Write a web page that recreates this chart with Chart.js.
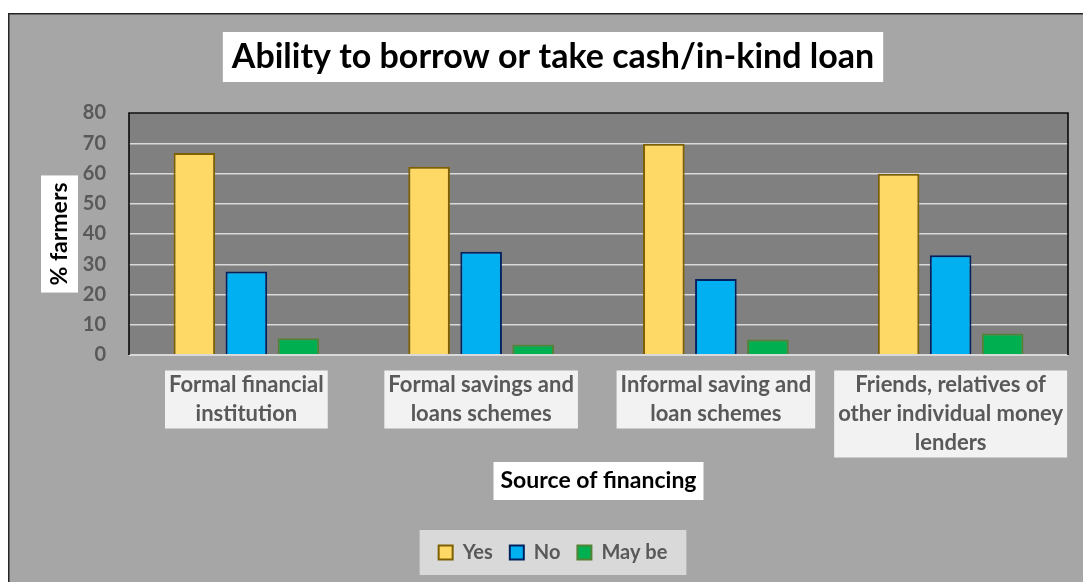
<!DOCTYPE html>
<html>
<head>
<meta charset="utf-8">
<script src="https://cdn.jsdelivr.net/npm/chart.js@4.4.1/dist/chart.umd.min.js"></script>
<style>
html,body{margin:0;padding:0;background:#ffffff;}
#wrap{width:1083px;height:582px;position:relative;}
canvas{display:block;}
</style>
</head>
<body>
<div id="wrap"><canvas id="c" width="1083" height="582"></canvas></div>
<script>
// ---- data ----
const chartTitle = "Ability to borrow or take cash/in-kind loan";
const yAxisTitle = "% farmers";
const xAxisTitle = "Source of financing";
const categories = [
  ["Formal financial", "institution"],
  ["Formal savings and", "loans schemes"],
  ["Informal saving and", "loan schemes"],
  ["Friends, relatives of", "other individual money", "lenders"]
];
const seriesNames = ["Yes", "No", "May be"];
const yesValues = [66.8, 62.2, 69.8, 59.9];
const noValues = [27.6, 34.1, 25.1, 33.0];
const maybeValues = [5.5, 3.5, 5.1, 7.1];
const yMin = 0, yMax = 80, yStep = 10;

// ---- style ----
const FONT = 'Lato, "Open Sans", "DejaVu Sans", sans-serif';
const TITLE_SIZE = 34, TITLE_PAD_TOP = 36.6, TITLE_PAD_BOTTOM = 35.6;
const AX_TITLE_SIZE = 23, XT_SIZE = 23, XT_PAD_B = 30.7;
const TICK_SIZE = 20, XTICK_SIZE = 22, XTICK_LH = 29, XTICK_PAD = 15.5;
const LEG_SIZE = 20, LEG_PAD = 17;

const decor = {
  id: 'decor',
  beforeDraw(chart) {
    const ctx = chart.ctx, W = chart.width, H = chart.height;
    const a = chart.chartArea;
    const xs = chart.scales.x;
    ctx.save();
    ctx.fillStyle = '#ffffff'; ctx.fillRect(0, 0, W, H);
    ctx.fillStyle = '#a6a6a6'; ctx.fillRect(9, 14, W - 9, H - 14);
    ctx.strokeStyle = '#262626'; ctx.lineWidth = 1.5;
    ctx.strokeRect(8.75, 13.75, W + 5, H + 5);
    // plot bg
    ctx.fillStyle = '#808080';
    ctx.fillRect(a.left, a.top, a.right - a.left, a.bottom - a.top);
    // title box
    const tb = chart.titleBlock;
    ctx.font = 'bold ' + TITLE_SIZE + 'px ' + FONT;
    const tw = ctx.measureText(chartTitle).width;
    const tcx = (tb.left + tb.right) / 2;
    const tcy = tb.top + TITLE_PAD_TOP + TITLE_SIZE * 1.2 / 2;
    ctx.fillStyle = '#ffffff';
    ctx.fillRect(tcx - tw / 2 - 9, tcy - 25, tw + 18, 50);
    // y title box
    ctx.font = 'bold ' + AX_TITLE_SIZE + 'px ' + FONT;
    const yw = ctx.measureText(yAxisTitle).width;
    const ycy = (a.top + a.bottom) / 2;
    ctx.fillRect(41, ycy - yw / 2 - 7, 37, yw + 14);
    // x title box
    ctx.font = 'bold ' + XT_SIZE + 'px ' + FONT;
    const xw = ctx.measureText(xAxisTitle).width;
    const xcx = (xs.left + xs.right) / 2;
    const xcy = xs.bottom - XT_PAD_B - XT_SIZE * 1.2 / 2;
    ctx.fillRect(xcx - xw / 2 - 7, xcy - 19, xw + 14, 38);
    // category label boxes
    ctx.font = 'bold ' + XTICK_SIZE + 'px ' + FONT;
    ctx.fillStyle = '#f2f2f2';
    categories.forEach((lines, i) => {
      const px = xs.getPixelForTick(i);
      let mw = 0;
      lines.forEach(l => { mw = Math.max(mw, ctx.measureText(l).width); });
      const top = xs.top + XTICK_PAD;
      ctx.fillRect(px - mw / 2 - 4, top, mw + 8, lines.length * XTICK_LH);
    });
    // legend box
    const lg = chart.legend;
    if (lg && lg.legendHitBoxes && lg.legendHitBoxes.length) {
      const hb = lg.legendHitBoxes;
      let l = Infinity, r = -Infinity, t = Infinity, b = -Infinity;
      hb.forEach(h => { l = Math.min(l, h.left); r = Math.max(r, h.left + h.width); t = Math.min(t, h.top); b = Math.max(b, h.top + h.height); });
      const cy = (t + b) / 2;
      ctx.fillStyle = '#d9d9d9';
      ctx.fillRect(l - 19, cy - 22.5, r - l + 38, 45);
    }
    ctx.restore();
  },
  afterDraw(chart) {
    const ctx = chart.ctx, a = chart.chartArea;
    ctx.save();
    ctx.strokeStyle = '#d9d9d9'; ctx.lineWidth = 2;
    ctx.beginPath(); ctx.moveTo(a.left, a.bottom); ctx.lineTo(a.right, a.bottom); ctx.stroke();
    ctx.strokeStyle = '#000000'; ctx.lineWidth = 1.5;
    ctx.beginPath();
    ctx.moveTo(a.left, a.bottom); ctx.lineTo(a.left, a.top); ctx.lineTo(a.right, a.top); ctx.lineTo(a.right, a.bottom);
    ctx.stroke();
    ctx.restore();
  }
};

new Chart(document.getElementById('c'), {
  type: 'bar',
  data: {
    labels: categories,
    datasets: [
      { label: seriesNames[0], data: yesValues, backgroundColor: '#ffd966', borderColor: '#7f6000', borderWidth: 2 },
      { label: seriesNames[1], data: noValues, backgroundColor: '#00b0f0', borderColor: '#002060', borderWidth: 2 },
      { label: seriesNames[2], data: maybeValues, backgroundColor: '#00b050', borderColor: '#548235', borderWidth: 2 }
    ]
  },
  options: {
    responsive: false,
    animation: false,
    devicePixelRatio: 1,
    layout: { padding: { left: 38, right: 15, top: 0, bottom: 9.5 } },
    datasets: { bar: { barPercentage: 0.8, categoryPercentage: 0.665 } },
    plugins: {
      title: {
        display: true, text: chartTitle, color: '#000000',
        font: { family: FONT, size: TITLE_SIZE, weight: 'bold', lineHeight: 1.2 },
        padding: { top: TITLE_PAD_TOP, bottom: TITLE_PAD_BOTTOM }
      },
      legend: {
        display: true, position: 'bottom',
        labels: {
          color: '#595959', boxWidth: 14, boxHeight: 14, padding: LEG_PAD,
          font: { family: FONT, size: LEG_SIZE, weight: 'bold' }
        }
      },
      tooltip: { enabled: false }
    },
    scales: {
      x: {
        grid: { display: false, drawTicks: false },
        border: { display: false },
        ticks: {
          color: '#595959', padding: XTICK_PAD, autoSkip: false, maxRotation: 0, minRotation: 0,
          font: { family: FONT, size: XTICK_SIZE, weight: 'bold', lineHeight: XTICK_LH / XTICK_SIZE }
        },
        title: {
          display: true, text: xAxisTitle, color: '#000000',
          font: { family: FONT, size: XT_SIZE, weight: 'bold', lineHeight: 1.2 },
          padding: { top: 0, bottom: XT_PAD_B }
        },
        afterFit(s) { s.height = 170.5; }
      },
      y: {
        min: yMin, max: yMax,
        grid: { color: '#d9d9d9', lineWidth: 1.5, drawTicks: false },
        border: { display: false },
        ticks: {
          stepSize: yStep, color: '#595959', padding: 23,
          font: { family: FONT, size: TICK_SIZE, weight: 'bold' }
        },
        title: {
          display: true, text: yAxisTitle, color: '#000000',
          font: { family: FONT, size: AX_TITLE_SIZE, weight: 'bold', lineHeight: 1.2 },
          padding: { top: 7.7, bottom: 0 }
        },
        afterFit(s) { s.width = 91; }
      }
    }
  },
  plugins: [decor]
});
</script>
</body>
</html>
